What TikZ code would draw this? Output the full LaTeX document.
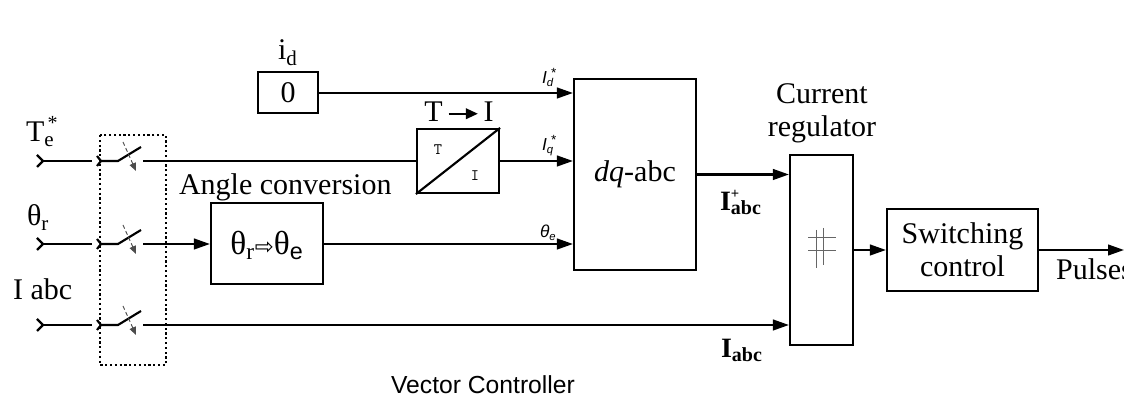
\documentclass[tikz,border=0pt]{standalone}
\usepackage{fontspec}
\setmainfont{Liberation Serif}
\setsansfont{Liberation Sans}
\newfontfamily\djv{DejaVu Sans}
\usetikzlibrary{arrows.meta}
\newcommand{\sigsub}[2]{#1\rlap{\raisebox{5pt}{\fontsize{10}{10}\selectfont\ *}}\raisebox{-2pt}{\fontsize{8.5}{8.5}\selectfont #2}}
\begin{document}
\begin{tikzpicture}[x=0.75pt,y=-0.75pt,line width=1.6pt,
  box/.style={draw,line width=1.6pt,inner sep=0pt,fill=white},
  arr/.style={-{Triangle[length=12pt,width=8pt]}},
  lbl/.style={font=\fontsize{22.5}{25}\selectfont,inner sep=0pt},
  sml/.style={font=\sffamily\itshape\fontsize{13}{13}\selectfont,inner sep=0pt},
  bsig/.style={font=\bfseries\fontsize{21}{21}\selectfont,inner sep=0pt},
  dotbox/.style={draw,dotted,line width=1.6pt},
  swarr/.style={draw=black!70,line width=0.7pt,dash pattern=on 3pt off 2pt,-{Triangle[length=6pt,width=5pt]}},
  hyst/.style={draw=black!60,line width=0.6pt}]
\useasboundingbox (0,0) rectangle (1124,398);

% input rows with switches
\foreach \y/\n in {161/a,244/b,325/c}{
  \draw (37,\y-6) -- (43,\y) -- (37,\y+6);
  \coordinate (in\n) at (43,\y);
  \coordinate (sa\n) at (92,\y);
  \draw (in\n) -- (sa\n);
  \draw (97,\y-5) -- (101,\y) -- (97,\y+5);
  \coordinate (sb\n) at (101,\y);
  \coordinate (sp\n) at (118,\y);
  \coordinate (bl\n) at (141,\y-14);
  \draw (sb\n) -- (sp\n) -- (bl\n);
  \coordinate (da\n) at (123,\y-19);
  \coordinate (db\n) at (136,\y+10);
  \draw[swarr] (da\n) -- (db\n);
  \coordinate (out\n) at (143,\y);
}
\draw[dotbox] (100,135) rectangle (166,365);

% input labels
\node[lbl,anchor=base west] (telbl) at (25,142) {T\rlap{\raisebox{9pt}{\fontsize{15}{15}\selectfont\,*}}\textsubscript{e}};
\node[lbl,anchor=base west] (thlbl) at (26,226) {θ\textsubscript{r}};
\node[lbl,anchor=base west] (ilbl) at (12,300) {I abc};

% blocks
\node[box,minimum width=45pt,minimum height=30.75pt,font=\fontsize{22.5}{25}\selectfont] (zero) at (288,92.5) {0};
\node[lbl,anchor=base west] (idlbl) at (277,60) {i\textsubscript{d}};

\node[box,minimum width=61.5pt,minimum height=48pt] (ti) at (458,161) {};
\draw (ti.south west) -- (ti.north east);
\node[font=\ttfamily\fontsize{12}{12}\selectfont,inner sep=0pt] (tiT) at (438,150) {T};
\node[font=\ttfamily\fontsize{12}{12}\selectfont,inner sep=0pt] (tiI) at (475,176) {I};
\node[lbl,anchor=base] (tilbl) at (459,122) {T\,\tikz[baseline=-0.6ex]\draw[line width=1.3pt,-{Triangle[length=9pt,width=8pt]}] (0pt,0pt)--(22pt,0pt);\,I};

\node[box,minimum width=84pt,minimum height=60.75pt] (ang) at (267,243.5) {};
\node[font=\fontsize{25}{25}\selectfont,inner sep=0pt] (angtxt) at (267,245) {θ\textsubscript{r}{\djv\fontsize{17}{17}\selectfont ⇨}θ\textsubscript{\sffamily e}};
\node[lbl,anchor=base west] (anglbl) at (178,195) {Angle conversion};

\node[box,minimum width=91.5pt,minimum height=143.25pt,font=\fontsize{22.5}{25}\selectfont] (dq) at (635,174.5) {\textit{dq}-abc};

\node[box,minimum width=47.25pt,minimum height=142.5pt] (cr) at (821.5,250) {};
\draw[hyst] (808,237) -- (836,237);
\draw[hyst] (808,250) -- (836,250);
\draw[hyst] (816,230) -- (816,268);
\draw[hyst] (823,228) -- (823,265);
\node[lbl,align=center] (crlbl) at (822,113) {Current\\regulator};

\node[box,minimum width=113.25pt,minimum height=61.5pt,align=center,font=\fontsize{22.5}{24.75}\selectfont] (sw) at (962.5,250) {Switching\\control};
\coordinate (pout) at (1124,250);

% connectors
\draw[arr] (zero.east |- 0,93) -- (dq.west |- 0,93);
\draw (outa) -- (ti.west);
\draw[arr] (ti.east) -- (dq.west |- ti.east);
\draw[arr] (outb) -- (ang.west |- outb);
\draw[arr] (ang.east |- 0,244) -- (dq.west |- 0,244);
\draw[arr] (dq.east) -- (cr.west |- dq.east);
\draw[arr] (outc) -- (cr.west |- outc);
\draw[arr] (cr.east) -- (sw.west);
\draw[arr] (sw.east) -- (pout);

% signal labels
\node[sml,anchor=base west] (idl) at (541,84) {\sigsub{I}{d}};
\node[sml,anchor=base west] (iql) at (541,151) {\sigsub{I}{q}};
\node[sml,anchor=base west] (thel) at (539,238) {θ\raisebox{-2pt}{\fontsize{8.5}{8.5}\selectfont e}};
\node[bsig,anchor=base west] (iabcp) at (719,211) {I\rlap{\raisebox{9pt}{\fontsize{11}{11}\selectfont +}}\raisebox{-3pt}{\fontsize{15}{15}\selectfont abc}};
\node[bsig,anchor=base west] (iabc) at (720,358) {I\raisebox{-3pt}{\fontsize{15}{15}\selectfont abc}};
\node[lbl,anchor=base west] (puls) at (1055,280) {Pulses};
\node[font=\sffamily\fontsize{18.5}{18.5}\selectfont,inner sep=0pt,anchor=base] (vc) at (483,394) {Vector Controller};
\end{tikzpicture}
\end{document}
